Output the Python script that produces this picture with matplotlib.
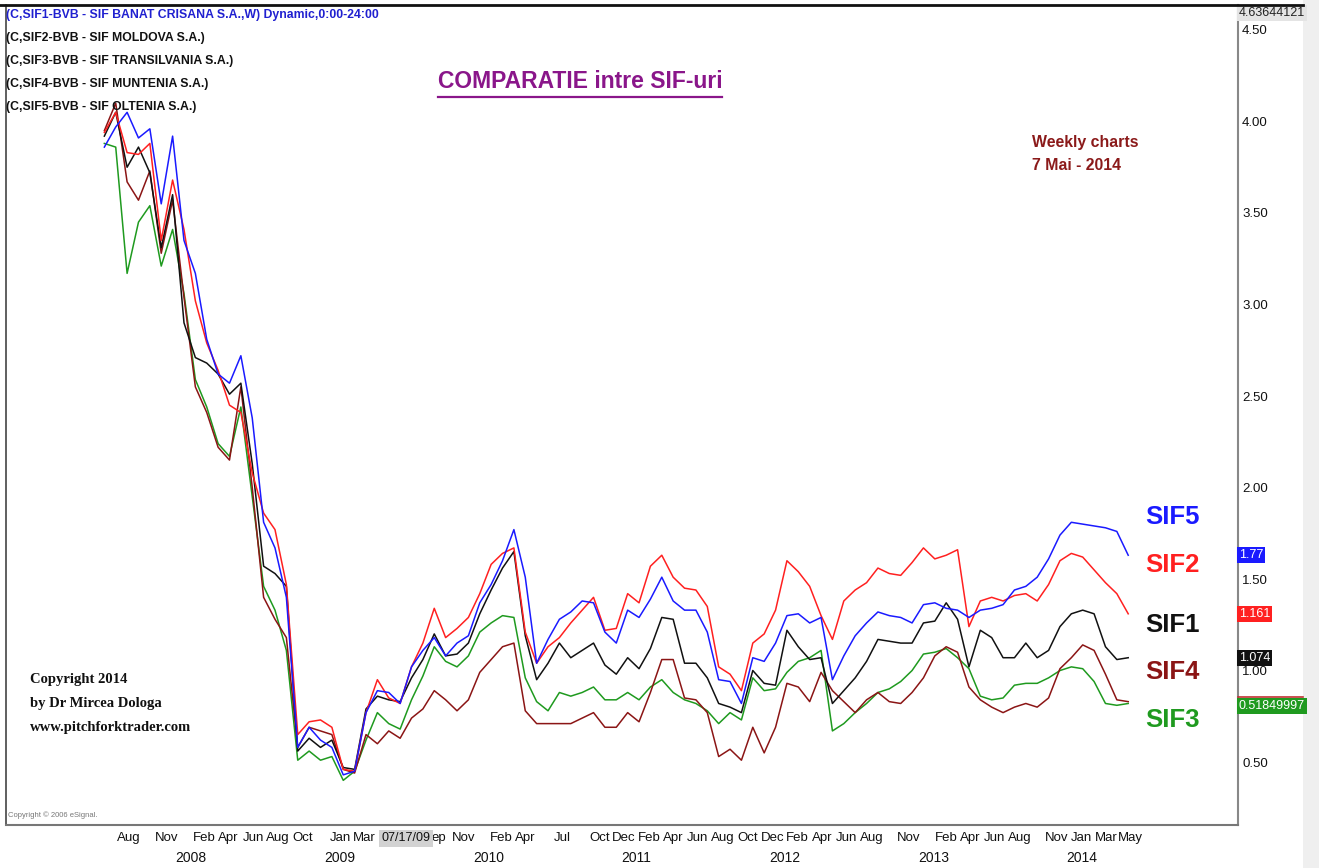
import matplotlib
matplotlib.use("Agg")
import matplotlib.pyplot as plt
import pandas as pd
from matplotlib.lines import Line2D
from matplotlib.patches import Rectangle

# ── data (every 4 weeks) ────────────────────────────────────────────────────
dates = pd.date_range("2007-06-01", periods=91, freq="28D")

sif5 = [3.86, 3.97, 4.05, 3.91, 3.96, 3.55, 3.92, 3.35, 3.17, 2.81,
        2.62, 2.57, 2.72, 2.38, 1.81, 1.67, 1.40, 0.58, 0.69, 0.62,
        0.58, 0.43, 0.45, 0.77, 0.89, 0.88, 0.82, 1.02, 1.11, 1.18,
        1.08, 1.15, 1.19, 1.37, 1.47, 1.60, 1.77, 1.51, 1.04, 1.17,
        1.28, 1.32, 1.38, 1.37, 1.21, 1.15, 1.33, 1.29, 1.39, 1.51,
        1.38, 1.33, 1.33, 1.21, 0.95, 0.94, 0.82, 1.07, 1.05, 1.15,
        1.30, 1.31, 1.26, 1.29, 0.95, 1.08, 1.19, 1.26, 1.32, 1.30,
        1.29, 1.26, 1.36, 1.37, 1.34, 1.33, 1.29, 1.33, 1.34, 1.36,
        1.44, 1.46, 1.51, 1.61, 1.74, 1.81, 1.80, 1.79, 1.78, 1.76,
        1.63]
sif2 = [3.94, 4.05, 3.83, 3.82, 3.88, 3.35, 3.68, 3.41, 3.02, 2.79,
        2.64, 2.45, 2.41, 2.08, 1.86, 1.77, 1.47, 0.65, 0.72, 0.73,
        0.69, 0.46, 0.45, 0.77, 0.95, 0.85, 0.82, 1.02, 1.15, 1.34,
        1.18, 1.23, 1.29, 1.42, 1.58, 1.64, 1.67, 1.21, 1.04, 1.13,
        1.18, 1.26, 1.33, 1.40, 1.22, 1.23, 1.42, 1.37, 1.57, 1.63,
        1.51, 1.45, 1.44, 1.35, 1.02, 0.98, 0.89, 1.15, 1.20, 1.33,
        1.60, 1.54, 1.46, 1.30, 1.17, 1.38, 1.44, 1.48, 1.56, 1.53,
        1.52, 1.59, 1.67, 1.61, 1.63, 1.66, 1.24, 1.38, 1.40, 1.38,
        1.41, 1.42, 1.38, 1.47, 1.60, 1.64, 1.62, 1.55, 1.48, 1.42,
        1.31]
sif1 = [3.92, 4.05, 3.75, 3.86, 3.72, 3.31, 3.60, 2.90, 2.71, 2.68,
        2.62, 2.51, 2.57, 2.13, 1.57, 1.53, 1.46, 0.56, 0.63, 0.58,
        0.62, 0.47, 0.46, 0.79, 0.86, 0.84, 0.83, 0.96, 1.06, 1.20,
        1.08, 1.09, 1.15, 1.31, 1.44, 1.56, 1.65, 1.19, 0.95, 1.04,
        1.15, 1.07, 1.11, 1.15, 1.03, 0.98, 1.07, 1.01, 1.12, 1.29,
        1.28, 1.04, 1.04, 0.96, 0.82, 0.80, 0.77, 1.00, 0.93, 0.92,
        1.22, 1.13, 1.06, 1.07, 0.82, 0.89, 0.96, 1.05, 1.17, 1.16,
        1.15, 1.15, 1.26, 1.27, 1.37, 1.28, 1.02, 1.22, 1.18, 1.07,
        1.07, 1.15, 1.07, 1.11, 1.24, 1.31, 1.33, 1.31, 1.13, 1.06,
        1.07]
sif3 = [3.88, 3.86, 3.17, 3.45, 3.54, 3.21, 3.41, 3.06, 2.59, 2.44,
        2.24, 2.17, 2.44, 1.95, 1.46, 1.33, 1.11, 0.51, 0.56, 0.51,
        0.53, 0.40, 0.45, 0.62, 0.77, 0.71, 0.68, 0.84, 0.97, 1.13,
        1.05, 1.02, 1.08, 1.21, 1.26, 1.30, 1.29, 0.96, 0.83, 0.78,
        0.88, 0.86, 0.88, 0.91, 0.84, 0.84, 0.88, 0.84, 0.91, 0.95,
        0.88, 0.84, 0.82, 0.78, 0.71, 0.77, 0.73, 0.96, 0.89, 0.90,
        0.99, 1.05, 1.07, 1.11, 0.67, 0.71, 0.77, 0.82, 0.88, 0.90,
        0.94, 1.00, 1.09, 1.10, 1.12, 1.07, 1.01, 0.86, 0.84, 0.85,
        0.92, 0.93, 0.93, 0.96, 1.00, 1.02, 1.01, 0.94, 0.82, 0.81,
        0.82]
sif4 = [3.95, 4.10, 3.67, 3.57, 3.73, 3.28, 3.57, 3.04, 2.55, 2.41,
        2.22, 2.15, 2.55, 2.00, 1.40, 1.28, 1.18, 0.58, 0.69, 0.67,
        0.65, 0.46, 0.44, 0.65, 0.60, 0.67, 0.63, 0.74, 0.79, 0.89,
        0.84, 0.78, 0.84, 0.99, 1.06, 1.13, 1.15, 0.78, 0.71, 0.71,
        0.71, 0.71, 0.74, 0.77, 0.69, 0.69, 0.77, 0.72, 0.88, 1.06,
        1.06, 0.85, 0.84, 0.77, 0.53, 0.57, 0.51, 0.69, 0.55, 0.69,
        0.93, 0.91, 0.83, 0.99, 0.89, 0.83, 0.77, 0.84, 0.88, 0.83,
        0.82, 0.88, 0.96, 1.08, 1.13, 1.10, 0.91, 0.84, 0.80, 0.77,
        0.80, 0.82, 0.80, 0.85, 1.01, 1.07, 1.14, 1.11, 0.98, 0.84,
        0.83]

names = ["SIF5", "SIF2", "SIF1", "SIF4", "SIF3"]
box_names = ["SIF5", "SIF2", "SIF1", "SIF3"]
last_prices = ["1.77", "1.161", "1.074", "0.51849997"]
top_value = 4.63644121

legend_lines = ["(C,SIF1-BVB - SIF BANAT CRISANA S.A.,W) Dynamic,0:00-24:00",
                "(C,SIF2-BVB - SIF MOLDOVA S.A.)",
                "(C,SIF3-BVB - SIF TRANSILVANIA S.A.)",
                "(C,SIF4-BVB - SIF MUNTENIA S.A.)",
                "(C,SIF5-BVB - SIF OLTENIA S.A.)"]

# month labels; the ones under the crosshair box are cut as on the screen
month_ticks = ["2007-08", "2007-11",
               "2008-02", "2008-04", "2008-06", "2008-08", "2008-10",
               "2009-01", "2009-03", "2009-09", "2009-11",
               "2010-02", "2010-04", "2010-07", "2010-10", "2010-12",
               "2011-02", "2011-04", "2011-06", "2011-08", "2011-10", "2011-12",
               "2012-02", "2012-04", "2012-06", "2012-08", "2012-11",
               "2013-02", "2013-04", "2013-06", "2013-08", "2013-11",
               "2014-01", "2014-03", "2014-05"]
month_labels = ["Aug", "Nov",
                "Feb", "Apr", "Jun", "Aug", "Oct",
                "Jan", "Mar", "ep", "Nov",
                "Feb", "Apr", "Jul", "Oct", "Dec",
                "Feb", "Apr", "Jun", "Aug", "Oct", "Dec",
                "Feb", "Apr", "Jun", "Aug", "Nov",
                "Feb", "Apr", "Jun", "Aug", "Nov",
                "Jan", "Mar", "May"]
years = [2008, 2009, 2010, 2011, 2012, 2013, 2014]

# ── styling ─────────────────────────────────────────────────────────────────
NARROW = ["Liberation Sans Narrow", "Liberation Sans", "DejaVu Sans"]
SERIF = ["Liberation Serif", "DejaVu Serif"]
plt.rcParams["font.family"] = NARROW

colors = {"SIF5": "#1a1aff", "SIF2": "#ff2020", "SIF1": "#111111",
          "SIF4": "#8b1515", "SIF3": "#1f9a1f"}
series = {"SIF5": sif5, "SIF2": sif2, "SIF1": sif1, "SIF4": sif4, "SIF3": sif3}

W, H = 1319, 868
fig = plt.figure(figsize=(W / 100, H / 100), dpi=100)


def fx(x):
    return x / W


def fy(y):
    return 1 - y / H


ax = fig.add_axes([fx(6), fy(825), fx(1238) - fx(6), fy(5) - fy(825)])

# x scale: Jan 2009 at px 340, 148.4 px per year
anchor = pd.Timestamp("2009-01-01")
px_day = 148.4 / 365.25
ax.set_xlim(anchor - pd.Timedelta(days=334 / px_day),
            anchor + pd.Timedelta(days=898 / px_day))
ax.set_ylim(0.156, top_value)

for name in ["SIF3", "SIF4", "SIF1", "SIF2", "SIF5"]:
    ax.plot(dates, series[name], color=colors[name], lw=1.1)

# right axis
ax.yaxis.tick_right()
ax.set_yticks([0.5, 1.0, 1.5, 2.0, 2.5, 3.0, 3.5, 4.0, 4.5])
ax.set_yticklabels([f"{v:.2f}" for v in ax.get_yticks()])
ax.tick_params(axis="y", length=0, pad=3, labelsize=9.5, labelcolor="#111")

# x axis months
ax.set_xticks(pd.to_datetime(month_ticks))
ax.set_xticklabels(month_labels)
ax.tick_params(axis="x", length=0, pad=5, labelsize=9.5, labelcolor="#111")
for yr in years:
    ax.text(pd.Timestamp(f"{yr}-01-01"), -0.040, str(yr), ha="center",
            va="center", fontsize=10, color="#111",
            transform=ax.get_xaxis_transform(), clip_on=False)

ax.spines["top"].set_visible(False)
ax.spines["left"].set_color("#444")
ax.spines["left"].set_linewidth(1.2)
ax.spines["bottom"].set_color("#777")
ax.spines["bottom"].set_linewidth(1.5)
ax.spines["right"].set_color("#888")
ax.spines["right"].set_linewidth(1.5)

# right labels
label_y = {"SIF5": 1.839, "SIF2": 1.577, "SIF1": 1.249, "SIF4": 0.992, "SIF3": 0.730}
for name in names:
    ax.text(0.9464, label_y[name], name, transform=ax.get_yaxis_transform(),
            ha="center", va="center", fontsize=18.5, weight="bold",
            color=colors[name])

# last price boxes on the axis
box_y = {"SIF5": sif5[-1], "SIF2": sif2[-1], "SIF1": sif1[-1],
         "SIF3": sif3[-1] - 0.012}
boxes = {}
for name, txt in zip(box_names, last_prices):
    boxes[name] = ax.text(1.0008, box_y[name], txt,
                          transform=ax.get_yaxis_transform(), ha="left",
                          va="center", fontsize=9, color="white",
                          clip_on=False, zorder=7,
                          bbox=dict(boxstyle="square,pad=0.15",
                                    fc=colors[name], ec="none"))
ax.text(1.0008, 4.594, f"{top_value:.8f}", transform=ax.get_yaxis_transform(),
        ha="left", va="center", fontsize=9, color="#222", clip_on=False,
        zorder=6, bbox=dict(boxstyle="square,pad=0.15", fc="#e4e4e4", ec="none"))

# frame pieces outside the axes
fig.patches.append(Rectangle((fx(1303), 0), 1 - fx(1303), 1, zorder=-1,
                             transform=fig.transFigure, fc="#efefef", ec="none"))
fig.add_artist(Line2D([0, fx(1303)], [fy(5), fy(5)], color="#111", lw=2))

# header legend
for k, line in enumerate(legend_lines):
    fig.text(fx(6), fy(15 + 23 * k), line, fontsize=8.8, weight="bold",
             color="#2020d0" if k == 0 else "#111", va="center")

title = fig.text(fx(580), fy(82), "COMPARATIE intre SIF-uri", ha="center",
                 va="center", fontsize=16.5, weight="bold", color="#8a168a")
fig.canvas.draw()
bb = title.get_window_extent()
fig.add_artist(Line2D([bb.x0 / W, bb.x1 / W], [(bb.y0 - 3) / H] * 2,
                      color="#8a168a", lw=1.6))

# edge of the SIF4 marker peeking above the SIF3 box
gb = boxes["SIF3"].get_bbox_patch().get_window_extent()
fig.add_artist(Line2D([fx(1238), fx(1303)], [(gb.y1 + 0.5) / H] * 2,
                      color="#c03030", lw=1.2))

fig.text(fx(1032), fy(142), "Weekly charts", fontsize=11.4, weight="bold",
         color="#8b1a1a", va="center")
fig.text(fx(1032), fy(166), "7 Mai - 2014", fontsize=11.4, weight="bold",
         color="#8b1a1a", va="center")

for k, line in enumerate(["Copyright 2014", "by Dr Mircea Dologa",
                          "www.pitchforktrader.com"]):
    fig.text(fx(30), fy(680 + 24 * k), line, family=SERIF, fontsize=10.5,
             weight="bold", color="#111", va="center")

fig.text(fx(8), fy(815), "Copyright \u00a9 2006 eSignal.", fontsize=5.5,
         color="#777", va="center")

# crosshair date box over the month labels
fig.text(fx(406), fy(838), "07/17/09", ha="center", va="center", fontsize=9,
         color="#111", zorder=10,
         bbox=dict(boxstyle="square,pad=0.2", fc="#d2d2d2", ec="none"))

fig.savefig("out.png", dpi=100)
